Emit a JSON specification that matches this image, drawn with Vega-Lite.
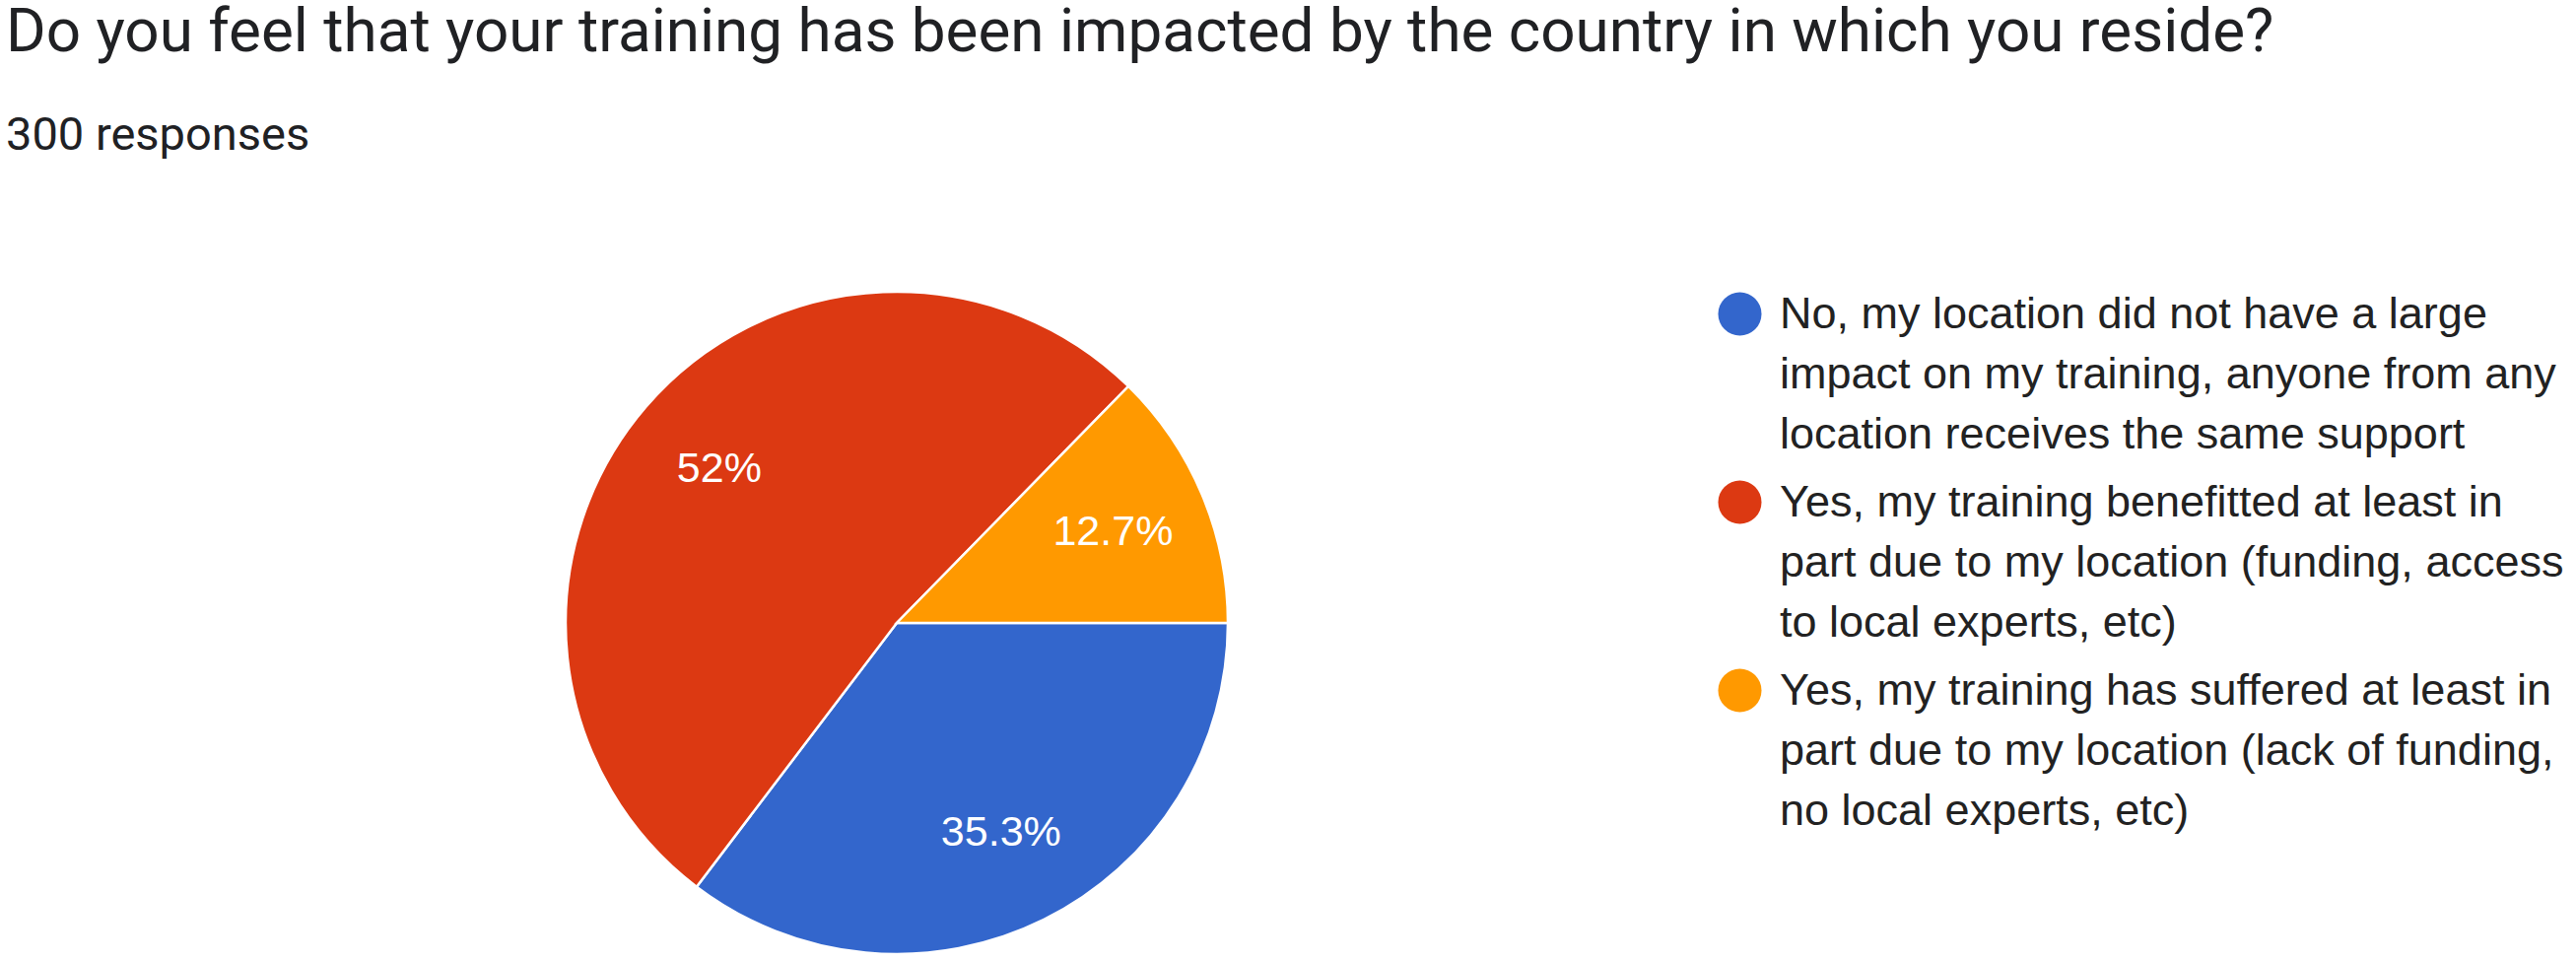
{
  "$schema": "https://vega.github.io/schema/vega-lite/v6.json",
  "width": 1820,
  "height": 688,
  "autosize": {"type": "none"},
  "padding": {"left": 0, "top": 288, "right": 794, "bottom": 0},
  "background": "white",
  "title": {
    "text": "Do you feel that your training has been impacted by the country in which you reside?",
    "subtitle": "300 responses",
    "anchor": "start",
    "frame": "group",
    "font": "Roboto",
    "fontSize": 62,
    "fontWeight": "normal",
    "color": "#202124",
    "subtitleFont": "Roboto",
    "subtitleFontSize": 47,
    "subtitleColor": "#202124",
    "subtitlePadding": 50,
    "offset": 126,
    "dx": 6
  },
  "data": {
    "values": [
      {"answer": "No, my location did not have a large impact on my training, anyone from any location receives the same support", "count": 106, "pct": "35.3%", "ord": 1},
      {"answer": "Yes, my training benefitted at least in part due to my location (funding, access to local experts, etc)", "count": 156, "pct": "52%", "ord": 2},
      {"answer": "Yes, my training has suffered at least in part due to my location (lack of funding, no local experts, etc)", "count": 38, "pct": "12.7%", "ord": 3}
    ]
  },
  "encoding": {
    "theta": {"field": "count", "type": "quantitative", "stack": true, "scale": {"range": [1.5707963, 7.8539816]}},
    "order": {"field": "ord", "type": "quantitative"}
  },
  "layer": [
    {
      "mark": {"type": "arc", "outerRadius": 336, "stroke": "white", "strokeWidth": 2.5},
      "encoding": {
        "color": {
          "field": "answer",
          "type": "nominal",
          "sort": null,
          "scale": {
            "domain": [
              "No, my location did not have a large impact on my training, anyone from any location receives the same support",
              "Yes, my training benefitted at least in part due to my location (funding, access to local experts, etc)",
              "Yes, my training has suffered at least in part due to my location (lack of funding, no local experts, etc)"
            ],
            "range": ["#3366cc", "#dc3912", "#ff9900"]
          },
          "legend": {
            "title": null,
            "orient": "none",
            "legendX": 1743,
            "legendY": 8,
            "symbolType": "circle",
            "symbolSize": 1936,
            "symbolStrokeWidth": 0,
            "symbolOpacity": 1,
            "labelFont": "Liberation Sans",
            "labelFontSize": 45,
            "labelColor": "#222222",
            "labelLimit": 1200,
            "labelOffset": 18,
            "rowPadding": 23,
            "labelExpr": "indexof(datum.label, 'No,') == 0 ? ['No, my location did not have a large', 'impact on my training, anyone from any', 'location receives the same support'] : indexof(datum.label, 'benefitted') >= 0 ? ['Yes, my training benefitted at least in', 'part due to my location (funding, access', 'to local experts, etc)'] : ['Yes, my training has suffered at least in', 'part due to my location (lack of funding,', 'no local experts, etc)']",
            "encode": {"labels": {"enter": {"lineHeight": {"value": 61}}, "update": {"lineHeight": {"value": 61}}}}
          }
        }
      }
    },
    {
      "mark": {"type": "text", "radius": 238, "font": "Liberation Sans", "fontSize": 43, "fill": "white", "align": "center", "baseline": "middle"},
      "encoding": {"text": {"field": "pct", "type": "nominal"}}
    }
  ],
  "config": {"view": {"stroke": null}, "style": {"guide-label": {"lineHeight": 61}}}
}
